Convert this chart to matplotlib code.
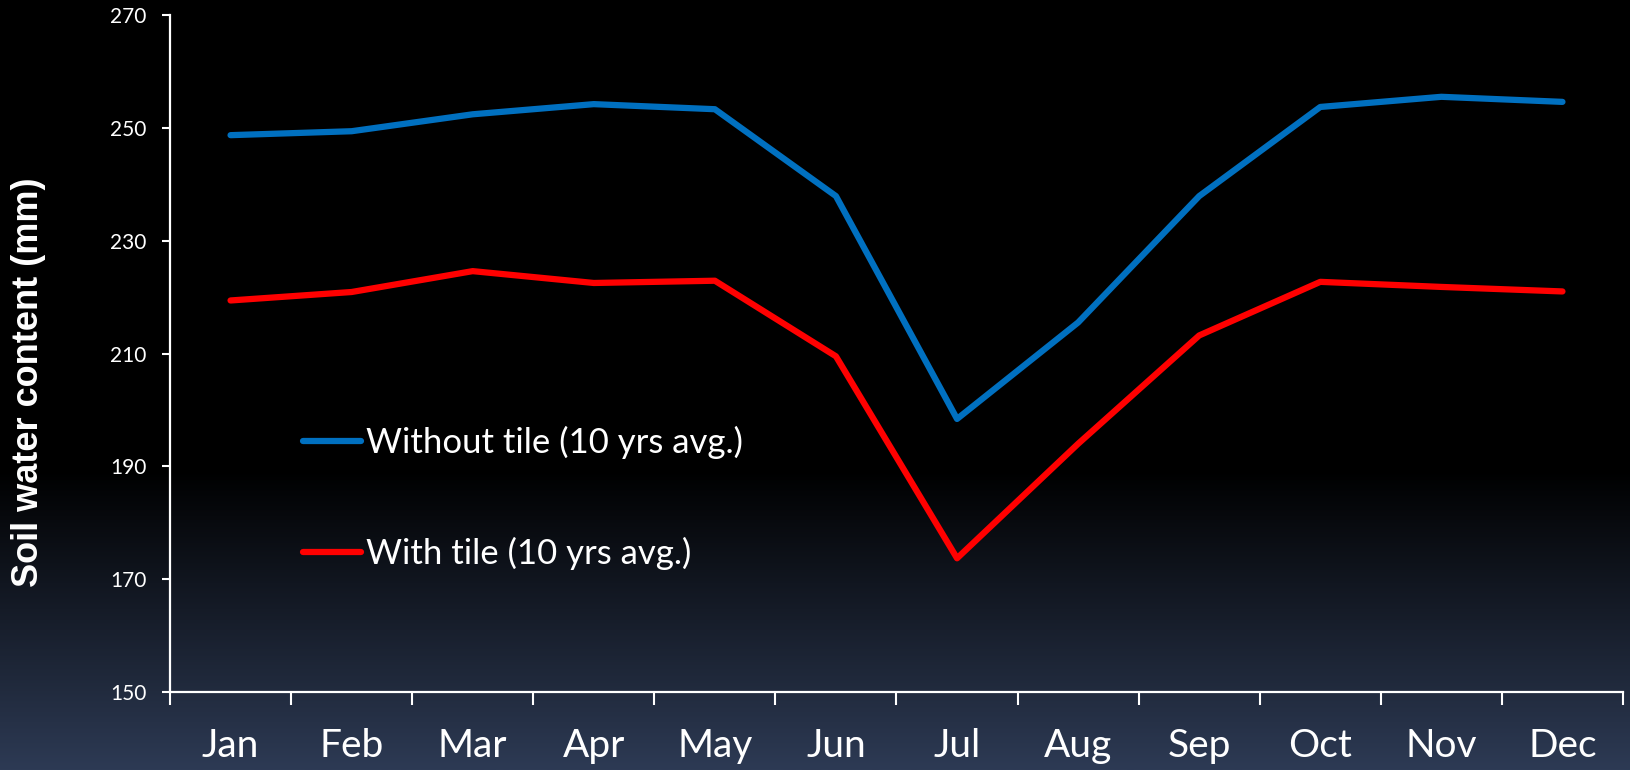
import numpy as np
import matplotlib
matplotlib.use("Agg")
import matplotlib.pyplot as plt
from matplotlib.colors import LinearSegmentedColormap

months = ["Jan", "Feb", "Mar", "Apr", "May", "Jun", "Jul", "Aug", "Sep", "Oct", "Nov", "Dec"]
without_tile = [248.7, 249.4, 252.4, 254.2, 253.3, 237.9, 198.4, 215.5, 237.9, 253.7, 255.5, 254.6]
with_tile = [219.4, 220.9, 224.6, 222.5, 222.9, 209.5, 173.7, 194.0, 213.2, 222.7, 221.8, 221.0]
yticks = [150, 170, 190, 210, 230, 250, 270]

W, H, DPI = 1631, 770, 100
fig = plt.figure(figsize=(W / DPI, H / DPI), dpi=DPI)

# background gradient
bg = fig.add_axes([0, 0, 1, 1], zorder=-10)
yy = np.linspace(0, 1, 400)  # 0 top, 1 bottom
start = 0.61
t = np.clip((yy - start) / (1 - start), 0, 1)
cmap = LinearSegmentedColormap.from_list("bg", ["#000000", "#2d3a54"])
bg.imshow(t[:, None], aspect="auto", cmap=cmap, vmin=0, vmax=1, extent=[0, 1, 0, 1])
bg.set_axis_off()

ax = fig.add_axes([170 / W, 78 / H, (1623 - 170) / W, (755 - 78) / H])
ax.patch.set_alpha(0)
x = np.arange(len(months))
ax.plot(x, without_tile, color="#0070c0", lw=4.5, solid_capstyle="round", label="Without tile (10 yrs avg.)")
ax.plot(x, with_tile, color="#ff0000", lw=4.5, solid_capstyle="round", label="With tile (10 yrs avg.)")

ax.set_xlim(-0.5, len(months) - 0.5)
ax.set_ylim(150, 270)
ax.set_yticks(yticks)
ax.set_xticks(np.arange(-0.5, len(months), 1.0))
ax.set_xticklabels([])
ax.set_xticks(x, minor=True)
ax.set_xticklabels(months, minor=True, fontsize=28, color="white", family="Lato")
ax.tick_params(axis="x", which="major", direction="out", length=9, width=1.5, color="white")
ax.tick_params(axis="x", which="minor", length=0, pad=26)
ax.tick_params(axis="y", direction="out", length=6, width=1.5, color="white", labelcolor="white", labelsize=15, pad=11)
for lbl in ax.get_yticklabels():
    lbl.set_family("Lato")
for s in ["top", "right"]:
    ax.spines[s].set_visible(False)
for s in ["left", "bottom"]:
    ax.spines[s].set_color("white")
    ax.spines[s].set_linewidth(1.6)

fig.text(29 / W, (770 - 382) / H, "Soil water content (mm)", rotation=90, color="white",
         fontsize=26, fontweight="bold", family="Liberation Sans", ha="center", va="center",
         transform=fig.transFigure)

leg = ax.legend(loc="upper left", bbox_to_anchor=(102 / (1623 - 170), (755 - 458) / (755 - 78)),
                frameon=False, handlelength=1.65, handletextpad=0.15,
                labelspacing=2.23, prop={"family": "Lato", "size": 25})
for t_ in leg.get_texts():
    t_.set_color("white")

fig.savefig("out.png", dpi=DPI, facecolor="black")
